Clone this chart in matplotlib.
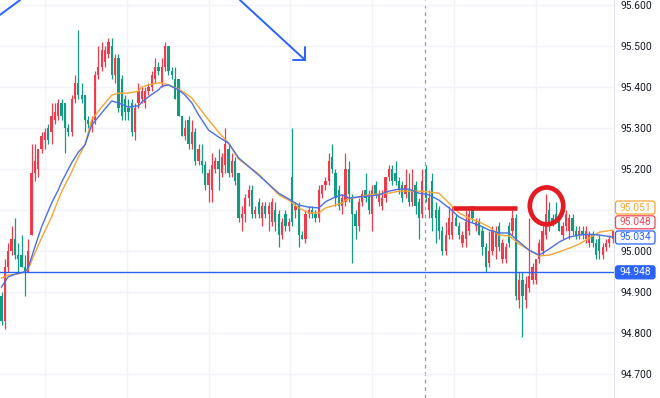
import numpy as np
import matplotlib
matplotlib.use("Agg")
import matplotlib.pyplot as plt
from matplotlib.patches import Ellipse, FancyBboxPatch

plt.rcParams['font.family'] = ['Roboto', 'DejaVu Sans']

# OHLC, one value per candle (left to right)
opens = [94.89, 94.83, 94.96, 95.00, 95.03, 94.99, 94.99, 94.96, 94.95, 95.04,
         95.19, 95.20, 95.25, 95.27, 95.30, 95.29, 95.32, 95.33, 95.36, 95.36,
         95.30, 95.29, 95.37, 95.41, 95.38, 95.38, 95.32, 95.31, 95.32, 95.43,
         95.45, 95.46, 95.48, 95.50, 95.43, 95.47, 95.42, 95.37, 95.35, 95.36,
         95.29, 95.36, 95.37, 95.36, 95.39, 95.40, 95.42, 95.45, 95.41, 95.45,
         95.50, 95.44, 95.42, 95.42, 95.33, 95.28, 95.32, 95.26, 95.29, 95.22,
         95.22, 95.21, 95.16, 95.15, 95.20, 95.22, 95.19, 95.21, 95.25, 95.19,
         95.22, 95.19, 95.08, 95.09, 95.13, 95.15, 95.09, 95.12, 95.08, 95.11,
         95.09, 95.07, 95.10, 95.09, 95.04, 95.09, 95.06, 95.18, 95.10, 95.11,
         95.04, 95.03, 95.09, 95.10, 95.09, 95.08, 95.14, 95.16, 95.17, 95.23,
         95.19, 95.15, 95.11, 95.12, 95.20, 95.13, 95.09, 95.06, 95.12, 95.15,
         95.14, 95.09, 95.16, 95.12, 95.11, 95.13, 95.18, 95.20, 95.19, 95.17,
         95.16, 95.14, 95.15, 95.12, 95.16, 95.12, 95.09, 95.20, 95.10, 95.17,
         95.10, 95.10, 95.05, 95.00, 95.04, 95.04, 95.08, 95.06, 95.02, 95.03,
         95.05, 95.11, 95.06, 95.07, 95.05, 95.01, 94.97, 95.00, 95.01, 95.06,
         94.98, 94.98, 95.06, 95.05, 95.08, 94.88, 94.93, 94.88, 94.91, 94.93,
         94.93, 94.98, 95.00, 95.04, 95.10, 95.08, 95.09, 95.07, 95.04, 95.06,
         95.05, 95.08, 95.05, 95.04, 95.05, 95.03, 95.02, 95.04, 95.02, 95.03,
         94.99, 95.01, 95.02, 95.03]
highs = [94.90, 94.98, 95.02, 95.06, 95.08, 95.02, 95.04, 94.99, 95.03, 95.26,
         95.26, 95.25, 95.29, 95.30, 95.31, 95.36, 95.36, 95.37, 95.37, 95.36,
         95.31, 95.38, 95.43, 95.54, 95.41, 95.38, 95.33, 95.33, 95.44, 95.50,
         95.51, 95.50, 95.52, 95.52, 95.48, 95.48, 95.43, 95.38, 95.37, 95.37,
         95.36, 95.41, 95.40, 95.40, 95.41, 95.44, 95.47, 95.46, 95.47, 95.51,
         95.50, 95.45, 95.45, 95.42, 95.33, 95.32, 95.33, 95.32, 95.30, 95.26,
         95.26, 95.22, 95.20, 95.24, 95.23, 95.25, 95.24, 95.30, 95.26, 95.24,
         95.23, 95.19, 95.11, 95.14, 95.16, 95.16, 95.11, 95.13, 95.12, 95.12,
         95.12, 95.13, 95.12, 95.10, 95.08, 95.10, 95.08, 95.30, 95.12, 95.12,
         95.05, 95.10, 95.11, 95.11, 95.10, 95.16, 95.16, 95.18, 95.24, 95.26,
         95.20, 95.16, 95.14, 95.24, 95.22, 95.14, 95.10, 95.13, 95.15, 95.19,
         95.15, 95.16, 95.17, 95.15, 95.15, 95.18, 95.21, 95.21, 95.22, 95.18,
         95.17, 95.20, 95.19, 95.20, 95.17, 95.13, 95.20, 95.21, 95.15, 95.19,
         95.12, 95.11, 95.06, 95.07, 95.11, 95.11, 95.09, 95.07, 95.05, 95.10,
         95.11, 95.11, 95.08, 95.08, 95.06, 95.02, 95.05, 95.06, 95.06, 95.07,
         95.03, 95.02, 95.07, 95.10, 95.09, 94.95, 94.95, 94.94, 95.08, 94.97,
         94.98, 95.03, 95.06, 95.14, 95.12, 95.09, 95.12, 95.08, 95.07, 95.10,
         95.09, 95.09, 95.06, 95.06, 95.06, 95.06, 95.05, 95.05, 95.03, 95.04,
         95.02, 95.03, 95.04, 95.05]
lows = [94.82, 94.81, 94.95, 94.99, 94.98, 94.95, 94.96, 94.89, 94.95, 95.04,
        95.17, 95.18, 95.24, 95.25, 95.26, 95.26, 95.31, 95.32, 95.32, 95.24,
        95.28, 95.28, 95.36, 95.37, 95.36, 95.29, 95.30, 95.29, 95.31, 95.42,
        95.44, 95.45, 95.47, 95.42, 95.41, 95.34, 95.32, 95.32, 95.32, 95.28,
        95.27, 95.35, 95.36, 95.35, 95.38, 95.39, 95.41, 95.43, 95.40, 95.44,
        95.43, 95.42, 95.37, 95.33, 95.28, 95.27, 95.25, 95.25, 95.21, 95.21,
        95.19, 95.15, 95.12, 95.12, 95.19, 95.15, 95.18, 95.19, 95.18, 95.18,
        95.16, 95.07, 95.05, 95.07, 95.11, 95.08, 95.08, 95.08, 95.06, 95.08,
        95.05, 95.06, 95.05, 95.01, 95.03, 95.05, 95.05, 95.06, 95.08, 95.01,
        95.03, 95.02, 95.08, 95.08, 95.07, 95.07, 95.13, 95.15, 95.16, 95.19,
        95.11, 95.10, 95.09, 95.11, 95.12, 94.97, 95.03, 95.05, 95.11, 95.12,
        95.09, 95.05, 95.13, 95.11, 95.10, 95.12, 95.17, 95.16, 95.16, 95.14,
        95.12, 95.13, 95.11, 95.11, 95.09, 95.03, 95.08, 95.12, 95.08, 95.05,
        95.02, 95.03, 94.99, 94.99, 95.03, 95.03, 95.06, 95.03, 95.01, 95.01,
        95.04, 95.07, 95.05, 95.04, 94.99, 94.95, 94.96, 94.99, 94.98, 95.00,
        94.97, 94.97, 95.01, 95.04, 94.88, 94.86, 94.79, 94.86, 94.90, 94.92,
        94.92, 94.97, 94.99, 95.03, 95.05, 95.06, 95.07, 95.05, 95.03, 95.05,
        95.03, 95.04, 95.03, 95.03, 95.03, 95.02, 95.01, 95.01, 94.98, 94.98,
        94.98, 95.00, 95.01, 95.02]
closes = [94.83, 94.96, 95.00, 95.03, 94.99, 94.98, 94.96, 94.95, 95.00, 95.19,
          95.22, 95.25, 95.28, 95.29, 95.27, 95.33, 95.34, 95.36, 95.33, 95.30,
          95.29, 95.37, 95.41, 95.38, 95.37, 95.32, 95.31, 95.32, 95.43, 95.45,
          95.49, 95.49, 95.51, 95.43, 95.47, 95.35, 95.33, 95.34, 95.34, 95.29,
          95.35, 95.39, 95.39, 95.39, 95.40, 95.43, 95.45, 95.44, 95.45, 95.50,
          95.44, 95.43, 95.37, 95.33, 95.28, 95.30, 95.26, 95.29, 95.22, 95.25,
          95.21, 95.16, 95.19, 95.21, 95.22, 95.20, 95.23, 95.26, 95.19, 95.22,
          95.17, 95.08, 95.09, 95.13, 95.15, 95.09, 95.10, 95.09, 95.11, 95.09,
          95.11, 95.12, 95.07, 95.04, 95.07, 95.06, 95.07, 95.07, 95.11, 95.04,
          95.03, 95.09, 95.10, 95.09, 95.08, 95.15, 95.16, 95.17, 95.22, 95.20,
          95.13, 95.11, 95.13, 95.20, 95.14, 95.09, 95.06, 95.12, 95.14, 95.13,
          95.10, 95.15, 95.14, 95.14, 95.13, 95.18, 95.20, 95.17, 95.17, 95.15,
          95.13, 95.16, 95.12, 95.15, 95.11, 95.08, 95.17, 95.13, 95.13, 95.08,
          95.08, 95.05, 95.00, 95.04, 95.08, 95.07, 95.06, 95.04, 95.04, 95.07,
          95.09, 95.08, 95.07, 95.04, 95.01, 94.96, 95.00, 95.05, 95.05, 95.01,
          95.02, 95.01, 95.02, 95.08, 94.89, 94.93, 94.89, 94.92, 94.94, 94.96,
          94.98, 95.02, 95.05, 95.09, 95.07, 95.07, 95.07, 95.05, 95.06, 95.09,
          95.08, 95.05, 95.04, 95.05, 95.04, 95.05, 95.04, 95.02, 94.99, 95.00,
          95.01, 95.02, 95.03, 95.048]

# moving averages (candle index, price)
ma_idx = [0, 2, 5, 7, 8, 10, 12, 15, 17, 18, 21, 23, 25, 27, 30, 33, 35, 38,
          41, 42, 44, 47, 48, 50, 53, 55, 57, 59, 62, 65, 68, 71, 77, 83, 86,
          89, 92, 95, 97, 100, 102, 103, 104, 107, 110, 113, 116, 119, 122,
          125, 128, 131, 134, 137, 140, 143, 146, 149, 152, 155, 158, 161, 164,
          167, 170, 173, 176, 179, 183]
ma_blue = [94.912, 94.937, 94.946, 94.949, 94.959, 95.010, 95.059, 95.117,
           95.149, 95.168, 95.215, 95.241, 95.259, 95.307, 95.337, 95.366,
           95.361, 95.351, 95.354, 95.363, 95.376, 95.393, 95.402, 95.405,
           95.393, 95.380, 95.361, 95.332, 95.295, 95.278, 95.263, 95.227,
           95.185, 95.141, 95.127, 95.112, 95.107, 95.105, 95.120, 95.132,
           95.137, 95.134, 95.129, 95.132, 95.134, 95.137, 95.146, 95.151,
           95.151, 95.141, 95.137, 95.124, 95.105, 95.083, 95.071, 95.063,
           95.051, 95.044, 95.044, 95.022, 95.002, 94.990, 95.005, 95.022,
           95.034, 95.039, 95.041, 95.039, 95.034]
ma_orange = [94.934, 94.941, 94.944, 94.949, 94.956, 94.995, 95.032, 95.083,
             95.125, 95.145, 95.193, 95.229, 95.259, 95.320, 95.351, 95.380,
             95.385, 95.385, 95.390, 95.400, 95.405, 95.410, 95.410, 95.405,
             95.395, 95.385, 95.373, 95.351, 95.320, 95.290, 95.263, 95.224,
             95.188, 95.137, 95.124, 95.105, 95.093, 95.093, 95.105, 95.112,
             95.117, 95.124, 95.127, 95.132, 95.137, 95.139, 95.141, 95.146,
             95.146, 95.146, 95.144, 95.141, 95.117, 95.093, 95.080, 95.071,
             95.059, 95.039, 95.037, 95.017, 95.002, 94.988, 94.990, 94.998,
             95.007, 95.017, 95.032, 95.046, 95.051]

price_ticks = [94.7, 94.8, 94.9, 95.0, 95.1, 95.2, 95.3, 95.4, 95.5, 95.6]
hline_price = 94.948
# right-hand price tags: (text, y position of tag, text colour, edge, face)
tags = [("95.051", 95.106, "#F7A534", "#F7A534", "white"),
        ("95.048", 95.070, "#EF4857", "#EF4857", "white"),
        ("95.034", 95.033, "#2962FF", "#2962FF", "white"),
        ("94.948", 94.948, "white", "#2962FF", "#2962FF")]

RED = "#EF3B4C"
GREEN = "#109C80"

fig = plt.figure(figsize=(6.6, 3.98), dpi=100)
ax = fig.add_axes([0, 0, 614 / 660, 1])
ax.set_xlim(-0.45, 183.4)
ax.set_ylim(94.6415, 95.6122)

o = np.array(opens); h = np.array(highs); l = np.array(lows); c = np.array(closes)
idx = np.arange(len(c))
cols = np.where(c >= o, RED, GREEN)
ax.vlines(idx, l, h, colors=cols, lw=0.9, zorder=2)
ax.bar(idx, np.maximum(np.abs(c - o), 0.002), bottom=np.minimum(o, c),
       width=0.68, color=cols, lw=0, zorder=2)

ax.plot(ma_idx, ma_orange, color="#F7A534", lw=1.0, zorder=3)
ax.plot(ma_idx, ma_blue, color="#4A6FE3", lw=1.0, zorder=3)

ax.axhline(hline_price, color="#2962FF", lw=1.0, zorder=3)
ax.axvline(126.8, color="#9598A1", lw=0.9, ls=(0, (3, 3)), zorder=1)

# drawings on the chart
blue_draw = dict(color="#2962FF", lw=1.4, zorder=4, solid_capstyle="round")
ax.plot([-0.45, 5.54], [95.576, 95.612], **blue_draw)
ax.plot([71.4, 90.87], [95.612, 95.466], **blue_draw)
ax.plot([87.3, 90.87, 90.87], [95.466, 95.466, 95.498], **blue_draw)
ax.plot([135.1, 154.3], [95.104, 95.104], color="#E31B23", lw=3.3,
        solid_capstyle="butt", zorder=4)
ax.add_patch(Ellipse((163.2, 95.110), 10.0, 0.090, fill=False,
                     ec="#E31B23", lw=3.4, zorder=4))

# grid and axes; the 95.100 label sits under the price tags, so it is left blank
ax.set_xticks(np.arange(13.0, 184, 24.5))
ax.tick_params(axis="x", length=0, labelbottom=False)
ax.yaxis.tick_right()
ax.set_yticks(price_ticks)
ax.set_yticklabels(["" if abs(v - 95.1) < 1e-9 else f"{v:.3f}" for v in price_ticks])
ax.tick_params(axis="y", length=0, pad=4.5, labelsize=7.4, labelcolor="#131722")
ax.grid(color="#F0F3FA", lw=1.0, zorder=0)
for s in ["top", "left", "bottom"]:
    ax.spines[s].set_visible(False)
ax.spines["right"].set_color("#E0E3EB")

# price tags drawn in pixel space so the boxes keep the screenshot's size
for txt, ypos, tc, ec, fc in tags:
    ypix = ax.transData.transform((0, ypos))[1]
    box = FancyBboxPatch((615.5, ypix - 6.5), 39.5, 13,
                         boxstyle="round,pad=0,rounding_size=2.5",
                         transform=None, fc=fc, ec=ec, lw=0.9, zorder=5)
    fig.patches.append(box)
    fig.text(635.5 / 660, ypix / 398, txt, ha="center", va="center",
             fontsize=7.4, color=tc, zorder=6)

fig.savefig("out.png", dpi=100)
